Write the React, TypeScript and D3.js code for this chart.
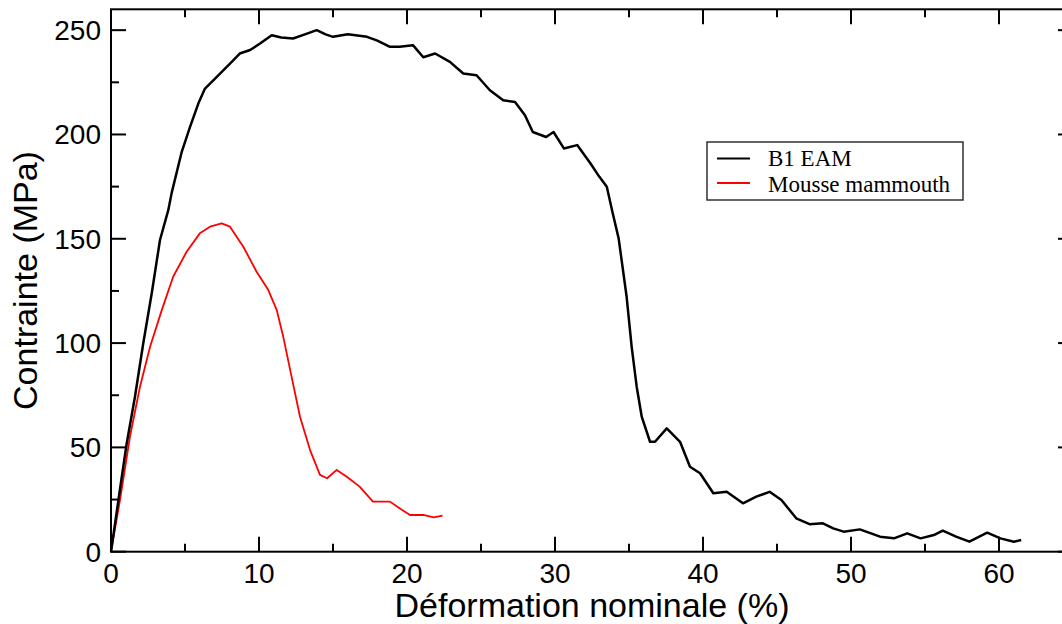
import React from "react";
import * as d3 from "d3";

// B1 EAM (black)
const eamStrain = [0, 0.6, 1.06, 1.62, 2.18, 2.75, 3.31, 3.87, 4.1, 4.78, 5.34, 5.9, 6.35, 7.03, 8.04, 8.7, 9.4, 10.07, 10.86, 11.5, 12.3, 13.1, 13.9, 14.5, 15.0, 16.0, 17.3, 18.0, 18.85, 19.5, 20.4, 21.1, 21.9, 22.9, 23.8, 24.7, 25.6, 26.5, 27.3, 27.97, 28.5, 29.4, 29.9, 30.6, 31.5, 32.4, 33.0, 33.5, 33.9, 34.3, 34.84, 35.18, 35.52, 35.86, 36.42, 36.76, 37.55, 38.45, 39.12, 39.8, 40.7, 41.6, 42.7, 43.6, 44.5, 45.3, 46.3, 47.2, 48.1, 48.8, 49.5, 50.6, 51.96, 52.9, 53.8, 54.7, 55.6, 56.2, 57.1, 58.0, 59.2, 60.1, 61.0, 61.5];
const eamStress = [0, 29.6, 51.9, 74.3, 99.9, 123.8, 149.4, 163.7, 172, 191.7, 203.6, 214.8, 222, 226.8, 234, 238.8, 240.5, 243.6, 247.6, 246.5, 246, 248, 250, 248, 246.8, 248, 246.8, 245, 242, 242, 242.8, 237, 238.8, 234.8, 229.2, 228.4, 221.2, 216.4, 215.6, 209.2, 201.2, 198.8, 201.2, 193.3, 194.9, 186.1, 179.7, 174.9, 162.2, 150.2, 122.2, 98.2, 79.1, 64.7, 52.7, 52.7, 59.1, 52.7, 40.7, 37.6, 28.0, 28.7, 23.2, 26.4, 28.7, 24.8, 16.0, 13.2, 13.6, 11.2, 9.6, 10.7, 7.2, 6.4, 8.8, 6.4, 8.0, 10.1, 7.2, 4.8, 9.1, 6.4, 4.8, 5.6];

// Mousse mammouth (red)
const mousseStrain = [0, 0.61, 1.28, 1.96, 2.64, 3.43, 4.2, 5.11, 6.0, 6.69, 7.48, 8.04, 8.94, 9.84, 10.63, 11.2, 11.64, 12.2, 12.77, 13.45, 14.12, 14.6, 15.25, 15.93, 16.8, 17.7, 18.85, 19.5, 20.2, 21.1, 21.8, 22.4];
const mousseStress = [0, 24.8, 55.1, 79.1, 98.2, 115.8, 131.8, 143.8, 152.6, 155.8, 157.4, 155.8, 146.2, 134.2, 125.4, 115.8, 103.0, 83.9, 64.7, 48.7, 36.8, 35.2, 39.2, 35.9, 31.2, 24.0, 24.0, 20.8, 17.6, 17.6, 16.5, 17.3];

const xMajorTicks = [0, 10, 20, 30, 40, 50, 60];
const xMinorTicks = [5, 15, 25, 35, 45, 55];
const yMajorTicks = [0, 50, 100, 150, 200, 250];
const yMinorTicks = [25, 75, 125, 175, 225];

const seriesNames = ["B1 EAM", "Mousse mammouth"];
const seriesColors = ["#000000", "#ff0000"];

const W = 1062;
const H = 624;
const left = 111;
const right = 1073;
const top = 9.3;
const bottom = 551.7;

export default function App() {
  const x = d3.scaleLinear().domain([0, 65]).range([left, right]);
  const y = d3.scaleLinear().domain([0, 260]).range([bottom, top]);
  const line = d3
    .line<[number, number]>()
    .x((d) => x(d[0]))
    .y((d) => y(d[1]));
  const eam: [number, number][] = eamStrain.map((s, i) => [s, eamStress[i]]);
  const mousse: [number, number][] = mousseStrain.map((s, i) => [s, mousseStress[i]]);
  const font = "'Liberation Sans', Arial, Helvetica, sans-serif";
  const major = 15;
  const minor = 8;

  return (
    <div style={{ position: "absolute", left: 0, top: 0 }}>
      <svg width={W} height={H} style={{ display: "block", background: "#fff" }}>
        <rect x={0} y={0} width={W} height={H} fill="#fff" />
        {/* data */}
        <path d={line(mousse) || ""} fill="none" stroke={seriesColors[1]} strokeWidth={1.8} strokeLinejoin="round" />
        <path d={line(eam) || ""} fill="none" stroke={seriesColors[0]} strokeWidth={2.5} strokeLinejoin="round" />
        {/* frame */}
        <rect x={left} y={top} width={right - left} height={bottom - top} fill="none" stroke="#000" strokeWidth={2} />
        {/* x ticks */}
        {xMajorTicks.map((t) => (
          <g key={"xM" + t}>
            <line x1={x(t)} x2={x(t)} y1={bottom} y2={bottom - major} stroke="#000" strokeWidth={2} />
            <line x1={x(t)} x2={x(t)} y1={top} y2={top + major} stroke="#000" strokeWidth={2} />
            <text x={x(t)} y={583} textAnchor="middle" fontFamily={font} fontSize={28} fill="#000">
              {t}
            </text>
          </g>
        ))}
        {xMinorTicks.map((t) => (
          <g key={"xm" + t}>
            <line x1={x(t)} x2={x(t)} y1={bottom} y2={bottom - minor} stroke="#000" strokeWidth={2} />
            <line x1={x(t)} x2={x(t)} y1={top} y2={top + minor} stroke="#000" strokeWidth={2} />
          </g>
        ))}
        {/* y ticks */}
        {yMajorTicks.map((t) => (
          <g key={"yM" + t}>
            <line x1={left} x2={left + major} y1={y(t)} y2={y(t)} stroke="#000" strokeWidth={2} />
            <line x1={right} x2={right - major} y1={y(t)} y2={y(t)} stroke="#000" strokeWidth={2} />
            <text x={101} y={y(t) + 10} textAnchor="end" fontFamily={font} fontSize={28} fill="#000">
              {t}
            </text>
          </g>
        ))}
        {yMinorTicks.map((t) => (
          <g key={"ym" + t}>
            <line x1={left} x2={left + minor} y1={y(t)} y2={y(t)} stroke="#000" strokeWidth={2} />
            <line x1={right} x2={right - minor} y1={y(t)} y2={y(t)} stroke="#000" strokeWidth={2} />
          </g>
        ))}
        {/* axis titles */}
        <text x={(left + right) / 2} y={617} textAnchor="middle" fontFamily={font} fontSize={34} fill="#000">
          Déformation nominale (%)
        </text>
        <text
          transform={`translate(37, ${(top + bottom) / 2}) rotate(-90)`}
          textAnchor="middle"
          fontFamily={font}
          fontSize={34}
          fill="#000"
        >
          Contrainte (MPa)
        </text>
        {/* legend */}
        <rect x={707} y={142} width={256} height={58} fill="#fff" stroke="#222" strokeWidth={1.4} />
        {seriesNames.map((n, i) => (
          <g key={n}>
            <line x1={717} x2={750} y1={158.5 + i * 24.5} y2={158.5 + i * 24.5} stroke={seriesColors[i]} strokeWidth={1.8} />
            <text x={768} y={166 + i * 25.5} fontFamily="'Liberation Serif', 'Times New Roman', serif" fontSize={23} fill="#000">
              {n}
            </text>
          </g>
        ))}
      </svg>
    </div>
  );
}
